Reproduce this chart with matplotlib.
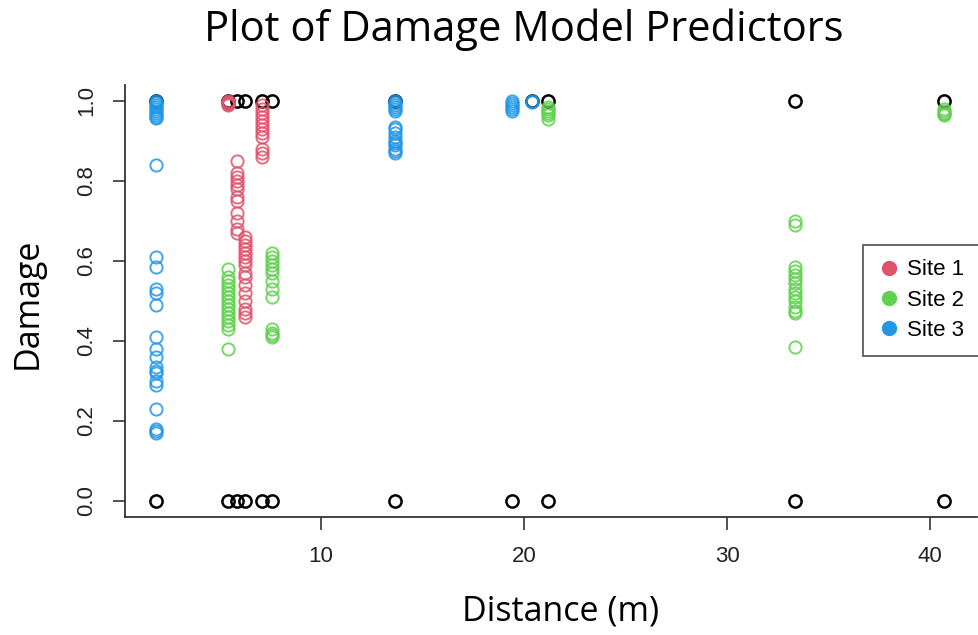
import matplotlib
matplotlib.use("Agg")
import matplotlib.pyplot as plt
from matplotlib.lines import Line2D

# ---- data ----
# observed (black) outcomes: distance, damage (0 or 1)
obs_x = [1.92, 5.42, 5.86, 6.26, 7.09, 7.59, 13.65, 20.4, 21.2, 33.35, 40.7,
         1.92, 5.42, 5.86, 6.26, 7.09, 7.59, 13.65, 19.4, 21.2, 33.35, 40.7]
obs_y = [1.0, 1.0, 1.0, 1.0, 1.0, 1.0, 1.0, 1.0, 1.0, 1.0, 1.0,
         0.0, 0.0, 0.0, 0.0, 0.0, 0.0, 0.0, 0.0, 0.0, 0.0, 0.0]

# Site 1 predictions
s1_x = ([5.42] * 6 + [5.86] * 12 + [6.26] * 16 + [7.09] * 12)
s1_y = ([1.0, 0.998, 0.996, 0.994, 0.992, 0.99,
         0.85, 0.82, 0.81, 0.80, 0.79, 0.78, 0.76, 0.75, 0.72, 0.70, 0.68, 0.67,
         0.66, 0.65, 0.64, 0.63, 0.62, 0.61, 0.60, 0.59, 0.57, 0.56, 0.54, 0.52,
         0.50, 0.48, 0.47, 0.46,
         0.99, 0.98, 0.97, 0.96, 0.95, 0.94, 0.93, 0.92, 0.91, 0.88, 0.87, 0.86])

# Site 2 predictions
s2_x = ([5.42] * 16 + [7.59] * 13 + [21.2] * 6 + [33.35] * 15 + [40.7] * 5)
s2_y = ([0.58, 0.56, 0.55, 0.54, 0.53, 0.52, 0.51, 0.50, 0.49, 0.48, 0.47,
         0.46, 0.45, 0.44, 0.43, 0.38,
         0.62, 0.61, 0.60, 0.59, 0.58, 0.57, 0.55, 0.53, 0.51, 0.43, 0.42, 0.415, 0.41,
         0.985, 0.98, 0.975, 0.97, 0.965, 0.955,
         0.70, 0.69, 0.585, 0.575, 0.565, 0.555, 0.545, 0.53, 0.52, 0.51, 0.50,
         0.485, 0.475, 0.47, 0.385,
         0.98, 0.975, 0.97, 0.968, 0.965])

# Site 3 predictions
s3_x = ([1.92] * 28 + [13.65] * 16 + [19.4] * 6 + [20.4] * 2)
s3_y = ([1.0, 0.995, 0.99, 0.985, 0.98, 0.975, 0.97, 0.965, 0.96, 0.958,
         0.84, 0.61, 0.585, 0.53, 0.52, 0.49, 0.41, 0.38, 0.36, 0.335, 0.325,
         0.32, 0.30, 0.29, 0.23, 0.18, 0.175, 0.17,
         1.0, 0.995, 0.99, 0.985, 0.98, 0.975, 0.935, 0.93, 0.92, 0.91, 0.90,
         0.895, 0.89, 0.88, 0.875, 0.87,
         1.0, 0.995, 0.99, 0.985, 0.98, 0.975,
         1.0, 0.998])

site_labels = ["Site 1", "Site 2", "Site 3"]
site_colors = ["#DF536B", "#61D04F", "#2297E6"]
x_ticks = [10, 20, 30, 40]
y_ticks = [0.0, 0.2, 0.4, 0.6, 0.8, 1.0]

# ---- figure ----
fig = plt.figure(figsize=(9.79, 6.35), dpi=100)
ax = fig.add_axes([125 / 979, 1 - 517 / 635, (977 - 125) / 979, (517 - 85) / 635])

ms = 8.8
mew = 1.4
ax.plot(obs_x, obs_y, linestyle="none", marker="o", mfc="none", mec="black",
        ms=ms, mew=mew + 0.4, zorder=2)
for xs, ys, c in zip([s1_x, s2_x, s3_x], [s1_y, s2_y, s3_y], site_colors):
    ax.plot(xs, ys, linestyle="none", marker="o", mfc="none", mec=c,
            ms=ms, mew=mew, alpha=0.85, zorder=3)

ax.set_xlim(0.37, 42.3)
ax.set_ylim(-0.04, 1.04)

for s in ["top", "right"]:
    ax.spines[s].set_visible(False)
for s in ["left", "bottom"]:
    ax.spines[s].set_color("#333333")
    ax.spines[s].set_linewidth(1.3)

ax.set_xticks(x_ticks)
ax.set_yticks(y_ticks)
ax.set_xticklabels([str(t) for t in x_ticks])
ax.set_yticklabels([f"{t:.1f}" for t in y_ticks], rotation=90, va="center")
for lab in ax.get_xticklabels() + ax.get_yticklabels():
    lab.set_fontfamily("Liberation Sans")
    lab.set_fontsize(16)
    lab.set_color("#222222")
ax.tick_params(axis="both", which="major", direction="out", length=9,
               width=1.2, color="#333333")
ax.tick_params(axis="x", which="major", pad=12)
ax.tick_params(axis="y", which="major", pad=11)

fig.text(524 / 979, 1 - 30 / 635, "Plot of Damage Model Predictors",
         family="Open Sans", size=30, ha="center", va="center", color="black")
fig.text(561 / 979, 1 - 611 / 635, "Distance (m)",
         family="Open Sans", size=24.5, ha="center", va="center", color="black")
fig.text(28 / 979, 1 - 303 / 635, "Damage", rotation=90,
         family="Open Sans", size=24.5, ha="center", va="center", color="black")

handles = [Line2D([0], [0], linestyle="none", marker="o", color=c, mfc=c, mec=c,
                  ms=10) for c in site_colors]
leg = ax.legend(handles, site_labels, loc="upper left",
                bbox_to_anchor=((863 - 125) / (977 - 125), 1 - (245 - 85) / (517 - 85)),
                prop=dict(family="Liberation Sans", size=16),
                frameon=True, fancybox=False, edgecolor="#333333",
                handletextpad=0.35, handlelength=1.0, borderpad=0.65,
                labelspacing=0.42, borderaxespad=0)
leg.get_frame().set_linewidth(1.3)

fig.savefig("out.png", dpi=100)
